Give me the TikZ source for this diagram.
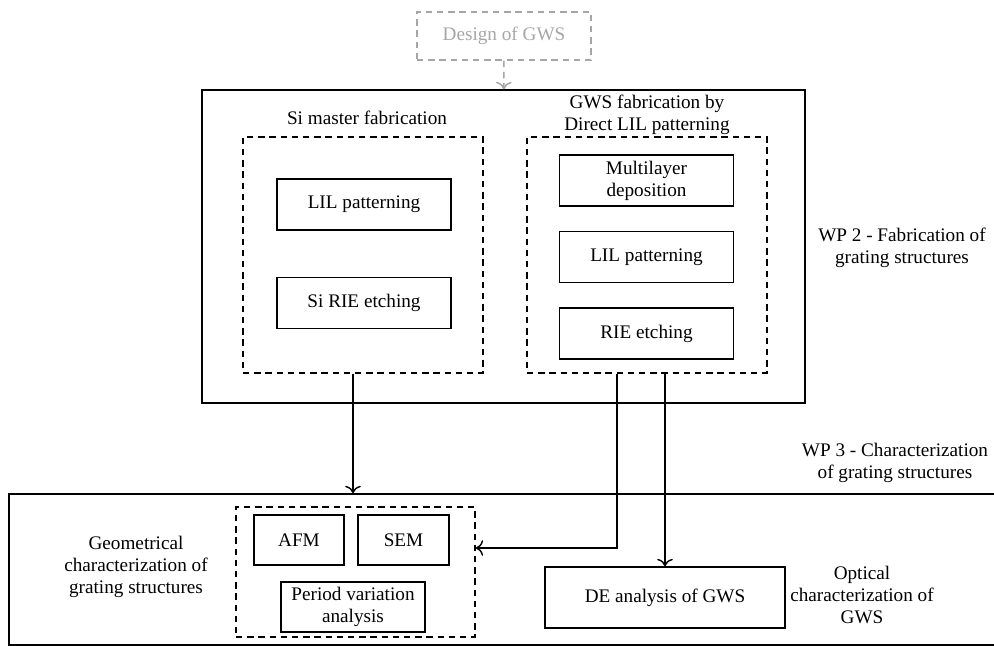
\documentclass[tikz,border=0pt]{standalone}
\usepackage{fontspec}
\setmainfont{LiberationSerif}[Extension=.ttf, UprightFont=*-Regular, BoldFont=*-Bold, ItalicFont=*-Italic]
\usetikzlibrary{positioning,calc,arrows.meta}

\begin{document}
\begin{tikzpicture}[x=0.625pt, y=-0.625pt, >={To[scale=1.3]}, every node/.style={font=\rmfamily\fontsize{12}{13.8}\selectfont}]
    \tikzstyle{task} = [rectangle, draw, line width=0.9pt, minimum width=108.75pt, minimum height=31.9pt, text centered, align=center, inner sep=2pt]
    \tikzstyle{group} = [rectangle, draw, line width=0.9pt, dash pattern=on 4pt off 3pt]
    \tikzstyle{wp} = [rectangle, draw, line width=0.9pt]
    \tikzstyle{note} = [align=center]
    \tikzstyle{link} = [line width=0.9pt]

    \clip (0,0) rectangle (994,646);

    % Design of GWS
    \node [task, draw=gray!70, text=gray!70, dash pattern=on 4pt off 3pt, minimum height=30pt] (design) at (504,36) {Design of GWS};

    % WP 2 - fabrication
    \node [wp, minimum width=376.9pt, minimum height=195.6pt] (wp2) at (503.5,246.5) {};
    \node [note] (wp2text) at (902,248) {WP 2 - Fabrication of\\grating structures};

    % Si master fabrication
    \node [group, minimum width=150pt, minimum height=147.5pt] (simbox) at (363,255) {};
    \node [note] (simtext) at (367,118) {Si master fabrication};
    \node [task] (lil1) at (364,204.5) {LIL patterning};
    \node [task, below=28.75pt of lil1] (rie1) {Si RIE etching};

    % GWS fabrication by direct LIL
    \node [group, minimum width=150pt, minimum height=147.5pt] (gwsbox) at (647,255) {};
    \node [note] (gwstext) at (647,115) {GWS fabrication by\\Direct LIL patterning};
    \node [task] (multi) at (646.5,180.5) {Multilayer\\deposition};
    \node [task, below=15pt of multi] (lil2) {LIL patterning};
    \node [task, below=15pt of lil2] (rie2) {RIE etching};

    % WP 3 - characterization
    \node [wp, minimum width=625.6pt, minimum height=94.4pt] (wp3) at (509.5,569.5) {};
    \node [note] (wp3text) at (895,463) {WP 3 - Characterization\\of grating structures};

    % Geometrical characterization
    \node [note] (geotext) at (136,567) {Geometrical\\characterization of\\grating structures};
    \node [group, minimum width=149.4pt, minimum height=81.25pt] (geobox) at (355.5,572) {};
    \node [task, minimum width=56.25pt, minimum height=31.25pt] (afm) at (299,540) {AFM};
    \node [task, minimum width=56.9pt, minimum height=31.25pt] (sem) at (403.5,540) {SEM};
    \node [task, minimum width=90pt, minimum height=31.25pt] (period) at (353,607) {Period variation\\analysis};

    % Optical characterization
    \node [task, minimum width=150pt, minimum height=38.1pt] (de) at (665,597.5) {DE analysis of GWS};
    \node [note] (opttext) at (862,595) {Optical\\characterization of\\GWS};

    % Connections
    \draw [->, link, gray!70, dash pattern=on 4pt off 3pt] (design) -- (wp2);

    \coordinate (simout) at ($(simbox.south)+(-10,0)$);
    \draw [->, link] (simout) -- (simout |- wp3.north);

    \coordinate (gwsout) at ($(gwsbox.south)+(-30,0)$);
    \draw [->, link] (gwsout) |- ($(geobox.east)+(0,-24)$);
    \draw [->, link] (de.north |- gwsbox.south) -- (de.north);
\end{tikzpicture}
\end{document}
